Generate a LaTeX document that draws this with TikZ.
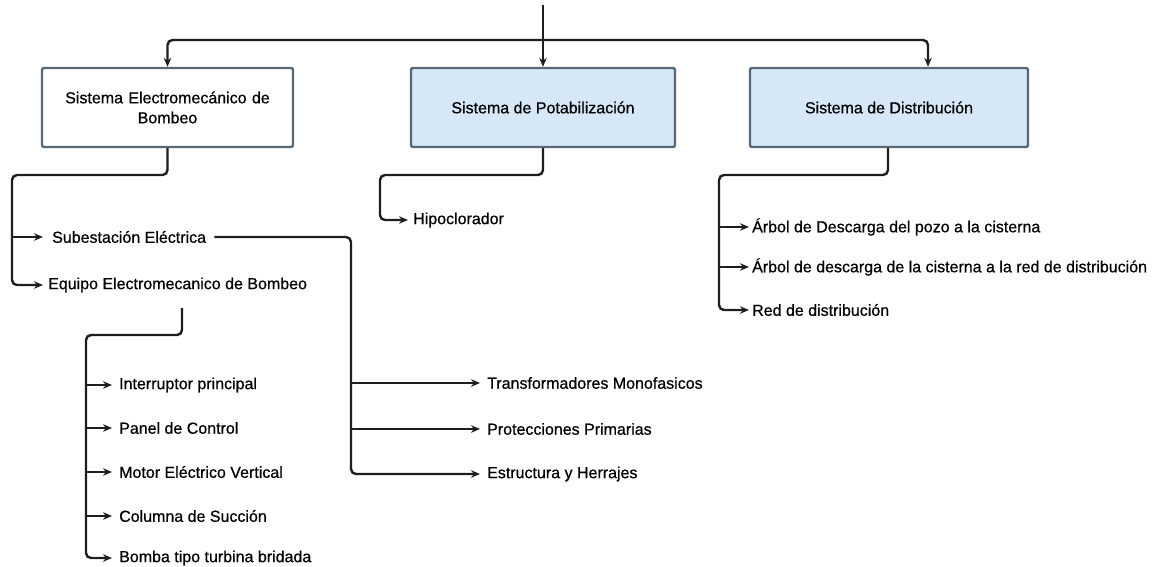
\documentclass[tikz,border=0pt]{standalone}
\usepackage{fontspec}
\setmainfont{Liberation Sans}
\newfontfamily\diagfont{Liberation Sans}[FakeBold=0.6]
\usetikzlibrary{arrows.meta}
\definecolor{boxfill}{RGB}{214,232,248}
\definecolor{boxdraw}{RGB}{88,104,120}
\definecolor{linec}{RGB}{30,30,30}
\begin{document}
\begin{tikzpicture}[x=1pt,y=-1pt,
  sysbox/.style={draw=boxdraw, line width=2.4pt, rounded corners=2pt, minimum height=79pt, align=center, font=\diagfont\fontsize{16}{20}\selectfont, inner sep=0pt},
  leaf/.style={anchor=west, inner sep=0pt, font=\diagfont\fontsize{16}{19}\selectfont},
  conn/.style={draw=linec, line width=2.4pt, rounded corners=5pt},
  arr/.style={conn, -{Stealth[length=9pt,width=7.5pt]}}
]
\useasboundingbox (0,0) rectangle (1165,566);

% top level boxes
\node[sysbox, fill=white, minimum width=251pt, text width=240pt] (sem) at (167.5,107.5) {Sistema Electromecánico de\\Bombeo};
\node[sysbox, fill=boxfill, minimum width=264pt] (pot) at (543,107.5) {Sistema de Potabilización};
\node[sysbox, fill=boxfill, minimum width=278pt] (dis) at (889,107.5) {Sistema de Distribución};

% top connectors
\coordinate (top) at (543,5);
\coordinate (hub) at (543,40);
\draw[arr] (top) -- (pot.north);
\draw[arr] (hub) -| (sem.north);
\draw[arr] (hub) -| ([xshift=39pt]dis.north);

% leaves under Sistema Electromecanico
\node[leaf] (sub) at (52,237) {Subestación Eléctrica};
\node[leaf] (eq) at (48,285) {Equipo Electromecanico de Bombeo};
\coordinate (s1) at (12,175);
\draw[arr] (sem.south) |- (s1) |- ([xshift=-5pt]eq.west);
\draw[arr] (s1 |- sub.west) -- ([xshift=-9pt]sub.west);

% Subestacion children
\node[leaf] (tra) at (487,383) {Transformadores Monofasicos};
\node[leaf] (pro) at (487,429) {Protecciones Primarias};
\node[leaf] (est) at (487,474) {Estructura y Herrajes};
\coordinate (s2) at (351,237);
\draw[arr] ([xshift=8pt]sub.east) -- (s2) |- ([xshift=-7pt]est.west);
\draw[arr] (s2 |- tra.west) -- ([xshift=-7pt]tra.west);
\draw[arr] (s2 |- pro.west) -- ([xshift=-7pt]pro.west);

% Equipo children
\node[leaf] (int) at (119,385) {Interruptor principal};
\node[leaf] (pan) at (119,428) {Panel de Control};
\node[leaf] (mot) at (119,472) {Motor Eléctrico Vertical};
\node[leaf] (col) at (119,516) {Columna de Succión};
\node[leaf] (bom) at (119,558) {Bomba tipo turbina bridada};
\coordinate (e0) at (182,308);
\coordinate (e1) at (86,335);
\draw[arr] (e0) |- (e1) |- ([xshift=-7pt]bom.west);
\draw[arr] (e1 |- int.west) -- ([xshift=-7pt]int.west);
\draw[arr] (e1 |- pan.west) -- ([xshift=-7pt]pan.west);
\draw[arr] (e1 |- mot.west) -- ([xshift=-7pt]mot.west);
\draw[arr] (e1 |- col.west) -- ([xshift=-7pt]col.west);

% Potabilizacion
\node[leaf] (hip) at (413,220) {Hipoclorador};
\coordinate (p1) at (380,175);
\draw[arr] (pot.south) |- (p1) |- ([xshift=-5pt]hip.west);

% Distribucion
\node[leaf] (ar1) at (752,227) {Árbol de Descarga del pozo a la cisterna};
\node[leaf] (ar2) at (752,267) {Árbol de descarga de la cisterna a la red de distribución};
\node[leaf] (red) at (752,310) {Red de distribución};
\coordinate (d1) at (719,175);
\draw[arr] ([xshift=-1pt]dis.south) |- (d1) |- ([xshift=-3pt]red.west);
\draw[arr] (d1 |- ar1.west) -- ([xshift=-3pt]ar1.west);
\draw[arr] (d1 |- ar2.west) -- ([xshift=-3pt]ar2.west);
\end{tikzpicture}
\end{document}
